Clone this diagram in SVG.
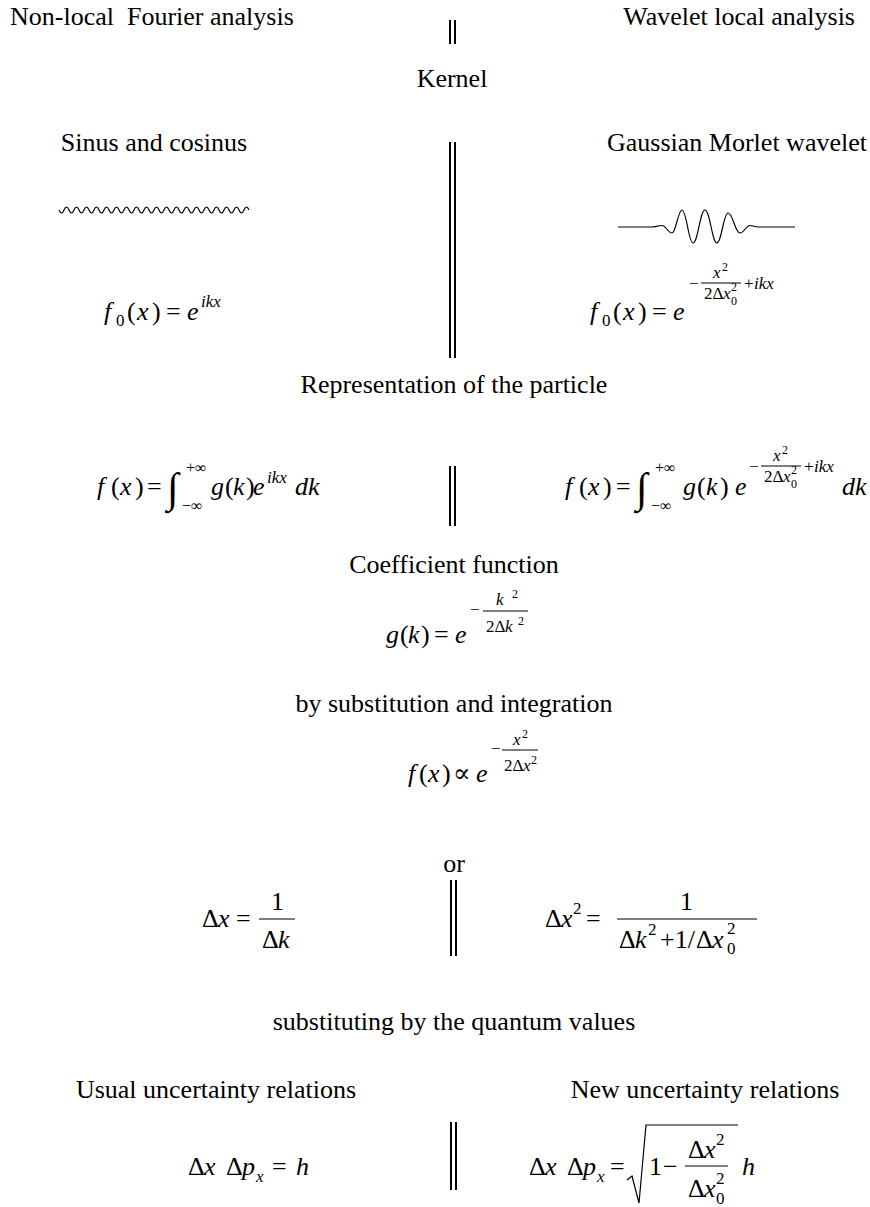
<svg xmlns="http://www.w3.org/2000/svg" width="870" height="1207" viewBox="0 0 870 1207" font-family="Liberation Serif, serif">
<style>
text{font-family:"Liberation Serif","Times New Roman","DejaVu Serif",serif;font-size:26px;fill:#000}
.i{font-style:italic}
.s{font-size:17px}
.ss{font-size:12px}
.l{font-size:16px}
.c{text-anchor:middle}
.bar{stroke:#000;stroke-width:2;fill:none}
.fr{stroke:#000;stroke-width:1.2;fill:none}
.wave{stroke:#000;stroke-width:1.2;fill:none}
</style>
<rect width="870" height="1207" fill="#fff"/>
<g id="separators">
<path class="bar" d="M450,20V44M455,20V44"/>
<path class="bar" d="M450,142V358M455,142V358"/>
<path class="bar" d="M450,466V526M455,466V526"/>
<path class="bar" d="M451,880V956M456,880V956"/>
<path class="bar" d="M451,1122V1190M456,1122V1190"/>
</g>
<g id="connectors"></g>
<g id="header-left"><text x="10" y="25" xml:space="preserve">Non-local  Fourier analysis</text></g>
<g id="header-right"><text x="855" y="25" text-anchor="end">Wavelet local analysis</text></g>
<g id="kernel"><text class="c" x="452" y="87">Kernel</text></g>
<g id="sinus-label"><text class="c" x="154" y="151">Sinus and cosinus</text></g>
<g id="morlet-label"><text class="c" x="737" y="151">Gaussian Morlet wavelet</text></g>
<g id="sine-wave"><path class="wave" d="M59,210q2.5,6 5,0t5,0t5,0t5,0t5,0t5,0t5,0t5,0t5,0t5,0t5,0t5,0t5,0t5,0t5,0t5,0t5,0t5,0t5,0t5,0t5,0t5,0t5,0t5,0t5,0t5,0t5,0t5,0t5,0t5,0t5,0t5,0t5,0t5,0t5,0t5,0t5,0t5,0"/></g>
<g id="morlet-wave"><path class="wave" d="M618,227H652C655,227 658,225.5 662,225.5C666,225.5 668,233 672,233C676,233 678,210 682,210C686.5,210 688.5,243 693,243C698,243 700,210 705,210C710,210 712,243 717,243C721.5,243 723.5,213 728,213C733,213 735,233 740,233C744,233 746,225.5 750,225.5C753,225.5 755,227 758,227H795"/></g>
<g id="f0-left"><text><tspan class="i" x="104" y="320">f</tspan><tspan class="s" x="116" y="326">0</tspan><tspan x="127" y="320">(</tspan><tspan class="i" x="137" y="320">x</tspan><tspan x="152" y="320">)</tspan><tspan x="166" y="320">=</tspan><tspan class="i" x="187" y="320">e</tspan><tspan class="s i" x="201" y="307">ikx</tspan></text></g>
<g id="f0-right"><text><tspan class="i" x="590" y="320">f</tspan><tspan class="s" x="602" y="326">0</tspan><tspan x="613" y="320">(</tspan><tspan class="i" x="623" y="320">x</tspan><tspan x="638" y="320">)</tspan><tspan x="652" y="320">=</tspan><tspan class="i" x="673" y="320">e</tspan><tspan class="s" x="689" y="289">−</tspan><tspan class="s i" x="713" y="278">x</tspan><tspan class="ss" x="722" y="271">2</tspan><tspan class="s" x="704" y="299">2Δ</tspan><tspan class="s i" x="723" y="299">x</tspan><tspan class="ss" x="731" y="305">0</tspan><tspan class="ss" x="731" y="291">2</tspan><tspan class="s" x="744" y="289">+</tspan><tspan class="s i" x="754" y="289">ikx</tspan></text><path class="fr" d="M701,283H741"/></g>
<g id="representation"><text class="c" x="454" y="393">Representation of the particle</text></g>
<g id="integral-left"><text><tspan class="i" x="97" y="495">f</tspan><tspan x="111" y="495">(</tspan><tspan class="i" x="120" y="495">x</tspan><tspan x="135" y="495">)</tspan><tspan x="147" y="495">=</tspan><tspan x="167" y="502" style="font-size:42px">∫</tspan><tspan class="l" x="186" y="473">+∞</tspan><tspan class="l" x="182" y="511">−∞</tspan><tspan class="i" x="211" y="495">g</tspan><tspan x="225" y="495">(</tspan><tspan class="i" x="233" y="495">k</tspan><tspan x="246" y="495">)</tspan><tspan class="i" x="253" y="495">e</tspan><tspan class="s i" x="267" y="483">ikx</tspan><tspan class="i" x="295" y="495">dk</tspan></text></g>
<g id="integral-right"><text><tspan class="i" x="565" y="495">f</tspan><tspan x="579" y="495">(</tspan><tspan class="i" x="588" y="495">x</tspan><tspan x="603" y="495">)</tspan><tspan x="616" y="495">=</tspan><tspan x="636" y="502" style="font-size:42px">∫</tspan><tspan class="l" x="655" y="473">+∞</tspan><tspan class="l" x="651" y="511">−∞</tspan><tspan class="i" x="683" y="495">g</tspan><tspan x="697" y="495">(</tspan><tspan class="i" x="706" y="495">k</tspan><tspan x="720" y="495">)</tspan><tspan class="i" x="735" y="495">e</tspan><tspan class="s" x="749" y="472">−</tspan><tspan class="s i" x="773" y="461">x</tspan><tspan class="ss" x="782" y="454">2</tspan><tspan class="s" x="764" y="482">2Δ</tspan><tspan class="s i" x="783" y="482">x</tspan><tspan class="ss" x="791" y="488">0</tspan><tspan class="ss" x="791" y="474">2</tspan><tspan class="s" x="804" y="472">+</tspan><tspan class="s i" x="814" y="472">ikx</tspan><tspan class="i" x="842" y="495">dk</tspan></text><path class="fr" d="M761,466H801"/></g>
<g id="coefficient"><text class="c" x="454" y="573">Coefficient function</text></g>
<g id="gk"><text><tspan class="i" x="386" y="643">g</tspan><tspan x="400" y="643">(</tspan><tspan class="i" x="408" y="643">k</tspan><tspan x="421" y="643">)</tspan><tspan x="434" y="643">=</tspan><tspan class="i" x="455" y="643">e</tspan><tspan class="s" x="470" y="615">−</tspan><tspan class="s i" x="496" y="605">k</tspan><tspan class="ss" x="512" y="598">2</tspan><tspan class="s" x="486" y="632">2Δ</tspan><tspan class="s i" x="505" y="632">k</tspan><tspan class="ss" x="518" y="625">2</tspan></text><path class="fr" d="M483,611H528"/></g>
<g id="substitution"><text class="c" x="454" y="712">by substitution and integration</text></g>
<g id="fprop"><text><tspan class="i" x="408" y="782">f</tspan><tspan x="419" y="782">(</tspan><tspan class="i" x="428" y="782">x</tspan><tspan x="442" y="782">)</tspan><tspan x="453" y="782">∝</tspan><tspan class="i" x="476" y="782">e</tspan><tspan class="s" x="491" y="754">−</tspan><tspan class="s i" x="513" y="745">x</tspan><tspan class="ss" x="522" y="738">2</tspan><tspan class="s" x="504" y="771">2Δ</tspan><tspan class="s i" x="523" y="771">x</tspan><tspan class="ss" x="531" y="764">2</tspan></text><path class="fr" d="M502,750H538"/></g>
<g id="or"><text class="c" x="454" y="872">or</text></g>
<g id="dx-left"><text><tspan x="202" y="927">Δ</tspan><tspan class="i" x="218" y="927">x</tspan><tspan x="236" y="927">=</tspan><tspan x="271" y="910">1</tspan><tspan x="262" y="948">Δ</tspan><tspan class="i" x="278" y="948">k</tspan></text><path class="fr" d="M259,919H295"/></g>
<g id="dx-right"><text><tspan x="545" y="927">Δ</tspan><tspan class="i" x="561" y="927">x</tspan><tspan class="s" x="573" y="914">2</tspan><tspan x="586" y="927">=</tspan><tspan x="680" y="910">1</tspan><tspan x="619" y="948">Δ</tspan><tspan class="i" x="635" y="948">k</tspan><tspan class="s" x="648" y="935">2</tspan><tspan x="660" y="948">+1/</tspan><tspan x="696" y="948">Δ</tspan><tspan class="i" x="712" y="948">x</tspan><tspan class="s" x="727" y="954">0</tspan><tspan class="s" x="727" y="934">2</tspan></text><path class="fr" d="M617,919H757"/></g>
<g id="quantum"><text class="c" x="454" y="1030">substituting by the quantum values</text></g>
<g id="usual-label"><text class="c" x="216" y="1098">Usual uncertainty relations</text></g>
<g id="new-label"><text class="c" x="705" y="1098">New uncertainty relations</text></g>
<g id="usual-relation"><text><tspan x="188" y="1175">Δ</tspan><tspan class="i" x="204" y="1175">x</tspan><tspan x="226" y="1175">Δ</tspan><tspan class="i" x="242" y="1175">p</tspan><tspan class="s i" x="256" y="1182">x</tspan><tspan x="272" y="1175">=</tspan><tspan class="i" x="296" y="1175">h</tspan></text></g>
<g id="new-relation"><text><tspan x="529" y="1175">Δ</tspan><tspan class="i" x="545" y="1175">x</tspan><tspan x="567" y="1175">Δ</tspan><tspan class="i" x="583" y="1175">p</tspan><tspan class="s i" x="597" y="1182">x</tspan><tspan x="610" y="1175">=</tspan><tspan x="649" y="1175">1</tspan><tspan x="663" y="1175">−</tspan><tspan x="688" y="1158">Δ</tspan><tspan class="i" x="704" y="1158">x</tspan><tspan class="s" x="716" y="1145">2</tspan><tspan x="688" y="1197">Δ</tspan><tspan class="i" x="704" y="1197">x</tspan><tspan class="s" x="716" y="1204">0</tspan><tspan class="s" x="716" y="1184">2</tspan><tspan class="i" x="742" y="1175">h</tspan></text><path class="fr" d="M685,1166H728"/><path class="fr" d="M627,1180L632,1176L639,1203L646,1125H738"/></g>
</svg>
